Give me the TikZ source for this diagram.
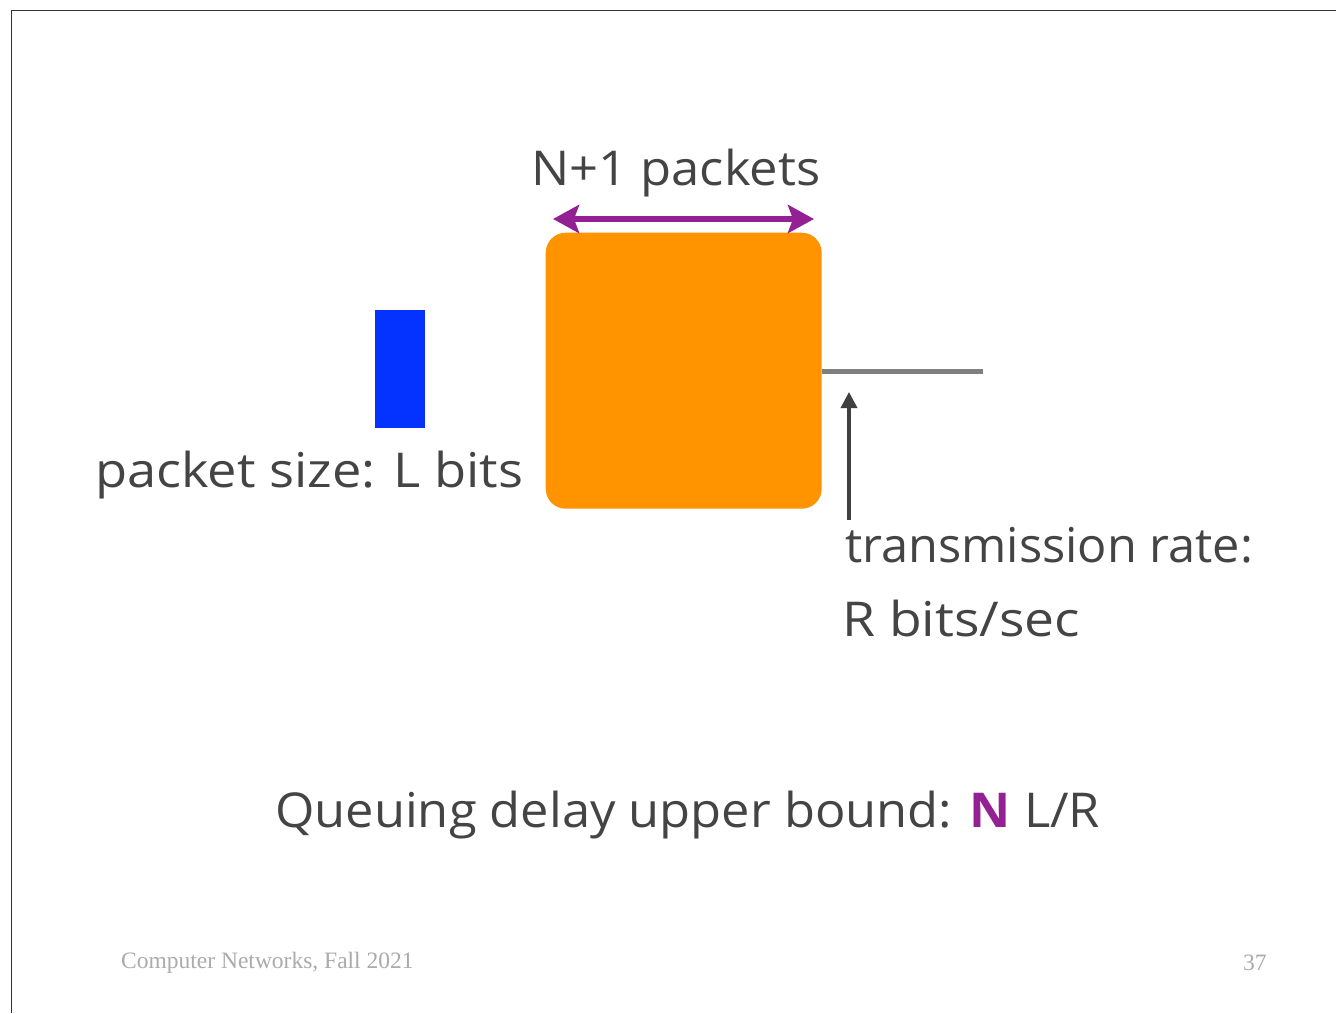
\documentclass[tikz,border=0pt]{standalone}
\usepackage{fontspec}
\usepackage{graphicx}
\setmainfont{Open Sans}
\newfontfamily\footfont{Liberation Serif}
\usetikzlibrary{arrows.meta}
\definecolor{txt}{HTML}{444444}
\definecolor{qorange}{HTML}{FF9300}
\definecolor{qblue}{HTML}{0433FF}
\definecolor{qpurple}{HTML}{942193}
\definecolor{qgray}{HTML}{7F7F7F}
\definecolor{qdark}{HTML}{404040}
\definecolor{foot}{HTML}{ABABAB}
\newcommand{\fitto}[2]{\resizebox{#1}{\height}{#2}}
\begin{document}
\begin{tikzpicture}[x=1pt,y=-1pt,
  lbl/.style={anchor=base west,inner sep=0pt,text=txt,font=\fontsize{48}{54}\selectfont},
  foottxt/.style={anchor=base west,inner sep=0pt,text=foot,font=\footfont\fontsize{23.5}{28}\selectfont}]
\useasboundingbox (0,0) rectangle (1336,1013);
\fill[white] (0,0) rectangle (1336,1013);
% frame
\draw[line width=1.5pt,black!80] (11.5,1013) -- (11.5,10.5) -- (1336,10.5);
% queue box
\node[fill=qorange,rounded corners=20pt,minimum width=276pt,minimum height=276pt,inner sep=0pt,anchor=north west] (queue) at (545.5,232.5) {};
% packet
\node[fill=qblue,minimum width=50pt,minimum height=118pt,inner sep=0pt,anchor=north west] (pkt) at (375,310) {};
% output link
\coordinate (linkend) at (983,371);
\draw[qgray,line width=5pt] (queue.east |- linkend) -- (linkend);
% purple double arrow
\coordinate (pl) at (553,219);
\coordinate (pr) at (814,219);
\draw[qpurple,line width=6pt,{Stealth[length=26pt,width=28pt,inset=5pt]}-{Stealth[length=26pt,width=28pt,inset=5pt]}] (pl) -- (pr);
% labels
\node[lbl] (np) at (531,185) {\fitto{289pt}{N+1 packets}};
\node[lbl] (ps) at (95,487) {\fitto{428pt}{packet size: L bits}};
\node[lbl] (tr) at (845,562) {\fitto{408pt}{transmission rate:}};
\node[lbl] (rb) at (842,636) {\fitto{238pt}{R bits/sec}};
\node[lbl] (qd) at (275,827) {\fitto{825pt}{Queuing delay upper bound: {\color{qpurple}\bfseries N} L/R}};
% rate arrow
\coordinate (ab) at (849,520);
\coordinate (at) at (849,392);
\draw[qdark,line width=3.5pt,-{Triangle[length=16pt,width=16pt]}] (ab) -- (at);
% footer
\node[foottxt] (ft) at (121,968) {Computer Networks, Fall 2021};
\node[foottxt] (pg) at (1243,970) {37};
\end{tikzpicture}
\end{document}
